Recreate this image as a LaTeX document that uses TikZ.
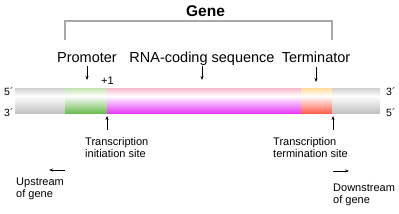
\documentclass[tikz,border=0pt]{standalone}
\usepackage{fontspec}
\setmainfont{Liberation Sans}
\usetikzlibrary{arrows.meta}
\definecolor{brk}{HTML}{A8A8A8}
\definecolor{gtop}{HTML}{D0D0D0}
\definecolor{gbot}{HTML}{C2C2C2}
\definecolor{grtop}{HTML}{C4E4B0}
\definecolor{grbot}{HTML}{6CBC50}
\definecolor{mtop}{HTML}{F6B8CC}
\definecolor{mbot}{HTML}{E63CF6}
\definecolor{ttop}{HTML}{FFDC98}
\definecolor{tbot}{HTML}{FF6050}
\tikzset{
  lbl/.style={inner sep=0pt, font=\fontsize{14.5}{16}\selectfont, anchor=base},
  small/.style={inner sep=0pt, font=\fontsize{11}{11.5}\selectfont, anchor=base west, align=left},
  endlbl/.style={inner sep=0pt, font=\fontsize{10.5}{11}\selectfont, anchor=base west},
  arr/.style={-{Stealth[length=4pt,width=3pt]}, line width=0.6pt, black},
  bracket/.style={draw=brk, line width=1.5pt},
}
\newcommand{\seg}[4]{%
  \shade[top color=#3, bottom color=white] (#1,88) rectangle (#2,96);
  \shade[top color=white, bottom color=#4] (#1,96) rectangle (#2,113);
}
\begin{document}
\begin{tikzpicture}[x=1pt,y=-1pt]
\useasboundingbox (0,0) rectangle (399,214);
% strip
\seg{15}{65}{gtop}{gbot}
\seg{65}{107}{grtop}{grbot}
\seg{107}{301}{mtop}{mbot}
\seg{301}{332}{ttop}{tbot}
\seg{332}{380}{gtop}{gbot}
% strand ends
\node[endlbl] (l5) at (4,95) {5´};
\node[endlbl] (l3) at (4,116) {3´};
\node[endlbl] (r3) at (386,95) {3´};
\node[endlbl] (r5) at (386,116) {5´};
% gene bracket
\node[inner sep=0pt, anchor=base, font=\fontsize{15.5}{17}\selectfont\bfseries] (gene) at (205.5,16.5) {Gene};
\coordinate (b1) at (65,40);
\coordinate (b2) at (65,21);
\coordinate (b3) at (332,21);
\coordinate (b4) at (332,40);
\draw[bracket] (b1) -- (b2) -- (b3) -- (b4);
% top labels
\node[lbl] (prom) at (87,62) {Promoter};
\node[lbl] (rna) at (202,62) {RNA-coding sequence};
\node[lbl] (term) at (316,62.5) {Terminator};
\node[inner sep=0pt, anchor=base, font=\fontsize{11}{11}\selectfont] (plus) at (107.5,84) {+1};
\coordinate (promt) at (87,66);
\coordinate (promh) at (87,80);
\coordinate (rnat) at (202,66);
\coordinate (rnah) at (202,80);
\coordinate (termt) at (316,67);
\coordinate (termh) at (316,82);
\draw[arr] (promt) -- (promh);
\draw[arr] (rnat) -- (rnah);
\draw[arr] (termt) -- (termh);
% bottom labels (base = last line)
\node[small] (init) at (85,157) {Transcription\\initiation site};
\node[small] (termsite) at (273,157) {Transcription\\termination site};
\coordinate (initt) at (107,130);
\coordinate (inith) at (107,116);
\coordinate (tst) at (333,130);
\coordinate (tsh) at (333,116);
\draw[arr] (initt) -- (inith);
\draw[arr] (tst) -- (tsh);
% up/downstream
\node[small] (up) at (16,197) {Upstream\\of gene};
\node[small] (down) at (333,203) {Downstream\\of gene};
\coordinate (upt) at (65,170);
\coordinate (uph) at (49,170);
\coordinate (dnt) at (333,171);
\coordinate (dnh) at (349,171);
\draw[arr] (upt) -- (uph);
\draw[arr] (dnt) -- (dnh);
\end{tikzpicture}
\end{document}
